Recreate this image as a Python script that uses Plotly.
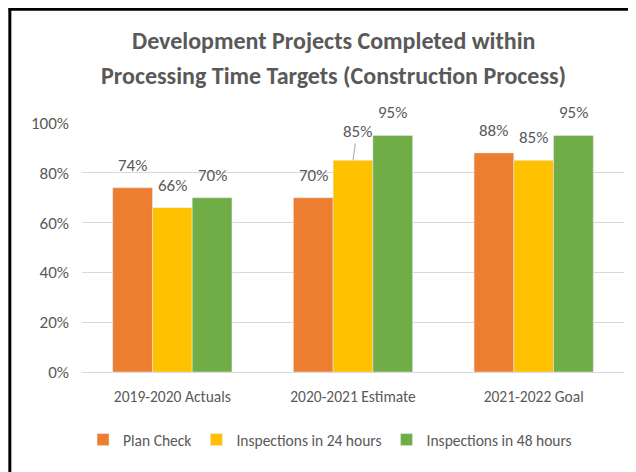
import plotly.graph_objects as go

categories = ["2019-2020 Actuals", "2020-2021 Estimate", "2021-2022 Goal"]
plan_check = [74, 70, 88]
insp_24h = [66, 85, 85]
insp_48h = [70, 95, 95]
y_ticks = [0, 20, 40, 60, 80, 100]
y_tick_labels = ["0%", "20%", "40%", "60%", "80%", "100%"]

FONT = "Carlito, Calibri, sans-serif"
GRAY = "#595959"

# figure sits inside the page's 8px body margin
W, H = 628, 464
L, R, T, B = 73.5, 11.5, 115, 100
plot_w, plot_h = W - L - R, H - T - B
BARGAP = 0.34
bar_px = plot_w / len(categories) * (1 - BARGAP) / 3


def px_x(x):
    return (x - L) / plot_w


def px_y(y):
    return (H - B - y) / plot_h


series = [
    ("Plan Check", plan_check, "#ED7D31"),
    ("Inspections in 24 hours", insp_24h, "#FFC000"),
    ("Inspections in 48 hours", insp_48h, "#70AD47"),
]

fig = go.Figure()
for i, (name, vals, color) in enumerate(series):
    fig.add_trace(go.Bar(x=categories, y=vals, name=name, marker_color=color,
                         hoverinfo="x+y+name"))
    for j, v in enumerate(vals):
        if name == "Inspections in 24 hours" and j == 1:
            # this label was dragged up, with a leader line
            fig.add_annotation(x=categories[j], y=v, text=f"{v}%",
                               showarrow=True, arrowhead=0, arrowwidth=1,
                               arrowcolor="#a6a6a6", ax=4, ay=-29,
                               font=dict(size=17, color=GRAY, family=FONT))
            continue
        fig.add_annotation(x=categories[j], y=v, text=f"{v}%", showarrow=False,
                           xshift=(i - 1) * bar_px, yshift=10, yanchor="bottom",
                           font=dict(size=17, color=GRAY, family=FONT))

# title, two lines
title_lines = ["Development Projects Completed within",
               "Processing Time Targets (Construction Process)"]
for line, y in zip(title_lines, [32, 67]):
    fig.add_annotation(text=f"<b>{line}</b>", xref="paper", yref="paper",
                       x=px_x(W / 2 + 11), y=px_y(y), showarrow=False,
                       xanchor="center", yanchor="middle",
                       font=dict(size=24, color=GRAY, family=FONT))

# chart frame (top and left edges visible)
fig.add_shape(type="line", xref="paper", yref="paper",
              x0=px_x(0), x1=px_x(W), y0=px_y(1.2), y1=px_y(1.2),
              line=dict(color="black", width=3))
fig.add_shape(type="line", xref="paper", yref="paper",
              x0=px_x(1.2), x1=px_x(1.2), y0=px_y(0), y1=px_y(H),
              line=dict(color="black", width=3))

fig.update_layout(
    width=W, height=H,
    margin=dict(l=L, r=R, t=T, b=B, autoexpand=False),
    paper_bgcolor="white", plot_bgcolor="white",
    font=dict(family=FONT, size=17, color=GRAY),
    barmode="group", bargap=BARGAP, bargroupgap=0,
    legend=dict(orientation="h", x=px_x(322), xanchor="center", y=px_y(432), yanchor="middle",
                font=dict(size=15.5, color=GRAY), traceorder="normal"),
    showlegend=True,
)
fig.update_yaxes(range=[0, 100], tickvals=y_ticks, ticktext=y_tick_labels,
                 showgrid=True, gridcolor="#d9d9d9", gridwidth=1,
                 zeroline=True, zerolinecolor="#d9d9d9", zerolinewidth=1,
                 showline=False, ticks="", ticklabelstandoff=12,
                 tickfont=dict(size=17, color=GRAY))
fig.update_xaxes(showline=False, ticks="", ticklabelstandoff=13,
                 tickfont=dict(size=15.5, color=GRAY))

fig.write_html("out.html")
